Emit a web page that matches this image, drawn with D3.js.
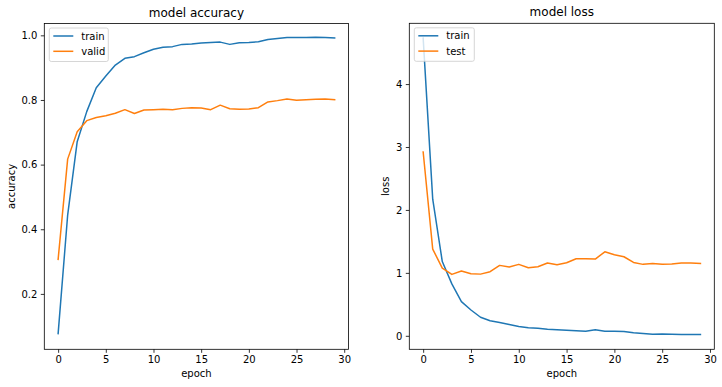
<!DOCTYPE html>
<html><head><meta charset="utf-8">
<script src="https://cdn.jsdelivr.net/npm/d3@7"></script>
<style>body{margin:0;background:#fff}svg{display:block}text{font-family:"DejaVu Sans",sans-serif;fill:#000}</style>
</head><body><svg id="c" width="722" height="387"></svg>
<script>
const epochs = d3.range(30);
const trainAcc = [0.077,0.444,0.671,0.764,0.838,0.874,0.908,0.929,0.934,0.946,0.957,0.963,0.965,0.972,0.973,0.976,0.978,0.979,0.972,0.977,0.978,0.980,0.987,0.990,0.993,0.993,0.993,0.994,0.993,0.992];
const validAcc = [0.307,0.617,0.702,0.736,0.746,0.751,0.759,0.770,0.758,0.769,0.770,0.771,0.770,0.774,0.776,0.775,0.770,0.784,0.773,0.771,0.772,0.776,0.794,0.798,0.803,0.799,0.801,0.802,0.803,0.801];
const trainLoss = [4.73,2.17,1.18,0.825,0.544,0.41,0.295,0.238,0.21,0.18,0.148,0.127,0.12,0.103,0.095,0.088,0.08,0.074,0.095,0.074,0.074,0.069,0.048,0.037,0.026,0.03,0.026,0.021,0.021,0.021];
const testLoss = [2.92,1.377,1.076,0.976,1.029,0.987,0.98,1.018,1.119,1.092,1.135,1.082,1.098,1.156,1.13,1.16,1.224,1.224,1.219,1.335,1.288,1.256,1.166,1.135,1.15,1.135,1.14,1.156,1.156,1.15];
const xTicks = [0,5,10,15,20,25,30];
const accTicks = [0.2,0.4,0.6,0.8,1.0];
const lossTicks = [0,1,2,3,4];
const blue = "#1f77b4", orange = "#ff7f0e";

const svg = d3.select("#c");

function panel(o){
  const g = svg.append("g");
  const x = d3.scaleLinear().domain([-1.45,30.45]).range([o.left,o.right]);
  const y = d3.scaleLinear().domain(o.ydom).range([o.bottom,o.top]);
  const line = d3.line().x((d,i)=>x(epochs[i])).y(d=>y(d));
  const clip = "clip"+o.id;
  svg.append("clipPath").attr("id",clip).append("rect")
    .attr("x",o.left).attr("y",o.top).attr("width",o.right-o.left).attr("height",o.bottom-o.top);
  const lg = g.append("g").attr("clip-path",`url(#${clip})`);
  o.series.forEach(s=>{
    lg.append("path").datum(s.values).attr("d",line).attr("fill","none")
      .attr("stroke",s.color).attr("stroke-width",1.5).attr("stroke-linejoin","round").attr("stroke-linecap","square");
  });
  const xa = g.append("g").attr("transform",`translate(0,${o.bottom})`)
    .call(d3.axisBottom(x).tickValues(xTicks).tickFormat(d3.format("d")).tickSize(3.5).tickPadding(3.5));
  const ya = g.append("g").attr("transform",`translate(${o.left},0)`)
    .call(d3.axisLeft(y).tickValues(o.yticks).tickFormat(o.fmt).tickSize(3.5).tickPadding(3.5));
  [xa,ya].forEach(a=>{a.select(".domain").remove();a.selectAll("line").attr("stroke","#000").attr("stroke-width",0.8);
    a.selectAll("text").attr("font-size",10).attr("font-family","DejaVu Sans").attr("fill","#000");});
  g.append("rect").attr("x",o.left).attr("y",o.top).attr("width",o.right-o.left).attr("height",o.bottom-o.top)
    .attr("fill","none").attr("stroke","#000").attr("stroke-width",0.8);
  g.append("text").attr("x",(o.left+o.right)/2).attr("y",o.top-7).attr("text-anchor","middle").attr("font-size",12).text(o.title);
  g.append("text").attr("x",(o.left+o.right)/2).attr("y",o.bottom+28).attr("text-anchor","middle").attr("font-size",10).text("epoch");
  g.append("text").attr("transform",`translate(${o.ylabX},${(o.top+o.bottom)/2}) rotate(-90)`).attr("text-anchor","middle").attr("font-size",10).text(o.ylabel);
  // legend
  const L = g.append("g").attr("transform",`translate(${o.left+5},${o.top+4.5})`);
  L.append("rect").attr("x",0).attr("y",0).attr("width",o.legW).attr("height",33.5).attr("rx",2)
    .attr("fill","#fff").attr("fill-opacity",0.8).attr("stroke","#cccccc").attr("stroke-width",0.8);
  o.series.forEach((s,i)=>{
    const yy = 8 + i*15.3;
    L.append("line").attr("x1",4).attr("x2",24).attr("y1",yy).attr("y2",yy).attr("stroke",s.color).attr("stroke-width",1.5);
    L.append("text").attr("x",32).attr("y",yy+3.6).attr("font-size",10).text(s.name);
  });
}

panel({id:"a",left:44.3,right:348.5,top:23.5,bottom:349.3,ydom:[0.0286,1.0366],yticks:accTicks,fmt:d3.format(".1f"),
  title:"model accuracy",ylabel:"accuracy",ylabX:15,legW:59,
  series:[{name:"train",values:trainAcc,color:blue},{name:"valid",values:validAcc,color:orange}]});
panel({id:"b",left:409.3,right:714.3,top:23.3,bottom:349.3,ydom:[-0.2145,4.9655],yticks:lossTicks,fmt:d3.format("d"),
  title:"model loss",ylabel:"loss",ylabX:389,legW:60,
  series:[{name:"train",values:trainLoss,color:blue},{name:"test",values:testLoss,color:orange}]});
</script></body></html>
